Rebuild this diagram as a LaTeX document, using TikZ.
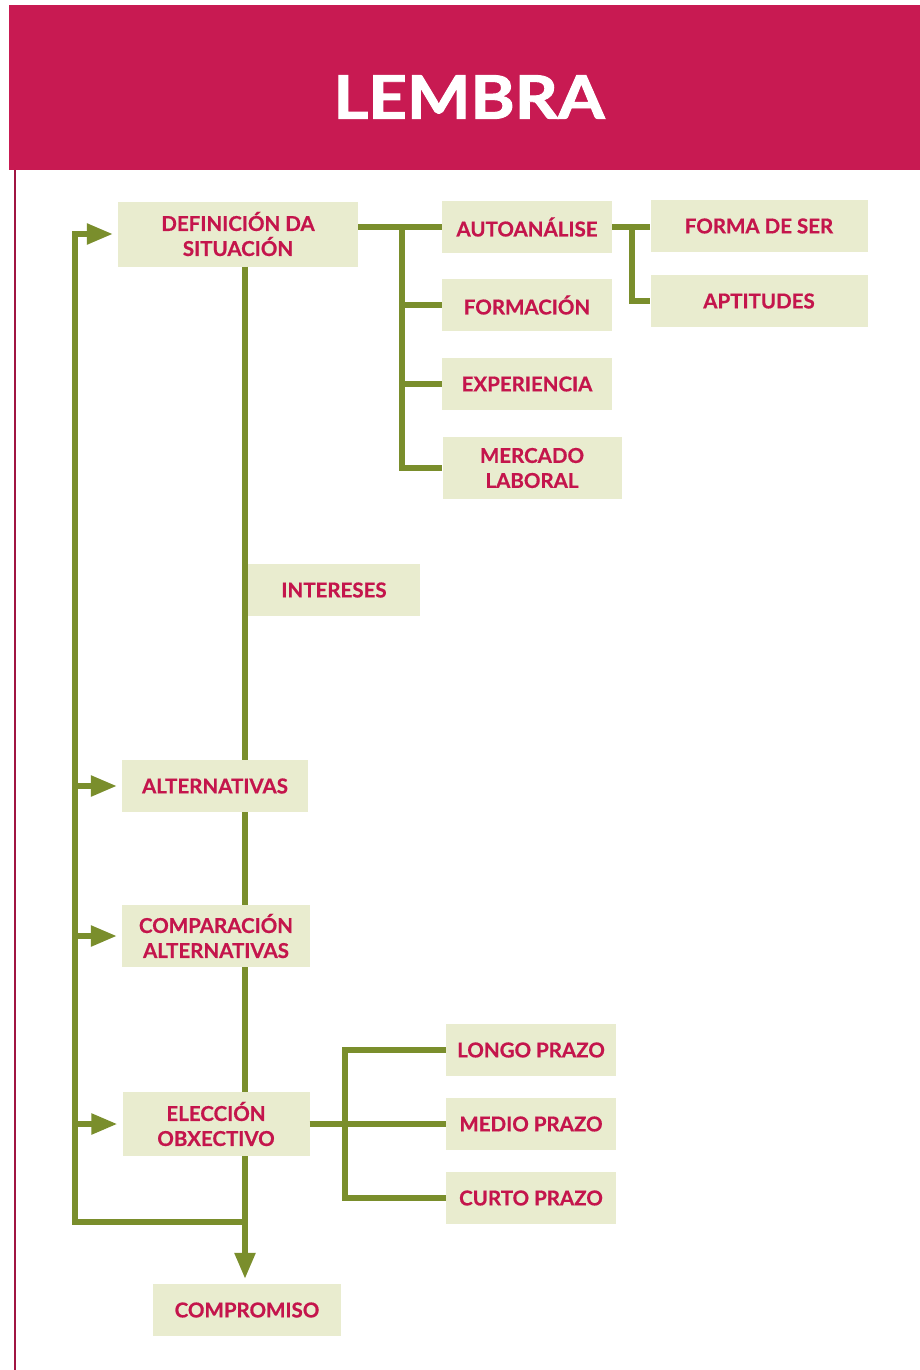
\documentclass[tikz,border=0pt]{standalone}
\usepackage{fontspec}
\setmainfont{Lato}
\newfontfamily\heavyfont{Lato}[BoldFeatures={FakeBold=1.6}]
\newfontfamily\boxfont{Lato}[BoldFeatures={FakeBold=0.6}]
\usetikzlibrary{arrows.meta}
\definecolor{mag}{HTML}{C81A52}
\definecolor{boxfill}{HTML}{E9ECCF}
\definecolor{txt}{HTML}{C4154C}
\definecolor{grn}{HTML}{7A8E2C}
\begin{document}
\begin{tikzpicture}[x=1pt,y=-1pt,
  bx/.style={fill=boxfill,draw=none,inner sep=0pt,align=center,text=txt,
    font=\boxfont\fontsize{20.5}{25}\selectfont\bfseries},
  conn/.style={draw=grn,line width=5.5pt},
  arr/.style={conn,-{Triangle[length=26pt,width=20pt]},shorten >=5pt}]
\useasboundingbox (0,0) rectangle (920,1370);
\fill[white] (0,0) rectangle (920,1370);
% header and border
\fill[mag] (9,5) rectangle (920,170);
\draw[mag!80!black,line width=2pt] (15,170) -- (15,1370);
\node[text=white,font=\heavyfont\fontsize{60}{60}\selectfont\bfseries,inner sep=0pt] (title) at (469,97) {\scalebox{1.12}[1]{LEMBRA}};
% boxes
\node[bx,minimum width=240pt,minimum height=65pt] (def) at (238,234) {DEFINICIÓN DA\\SITUACIÓN};
\node[bx,minimum width=170pt,minimum height=52pt] (auto) at (527,227) {AUTOANÁLISE};
\node[bx,minimum width=217pt,minimum height=52pt] (forma) at (759,226) {FORMA DE SER};
\node[bx,minimum width=217pt,minimum height=52pt] (apt) at (759,301) {APTITUDES};
\node[bx,minimum width=170pt,minimum height=52pt] (form) at (527,305) {FORMACIÓN};
\node[bx,minimum width=170pt,minimum height=52pt] (exp) at (527,384) {EXPERIENCIA};
\node[bx,minimum width=179pt,minimum height=62pt] (merc) at (532,468) {MERCADO\\LABORAL};
\node[bx,minimum width=172pt,minimum height=52pt] (int) at (334,590) {INTERESES};
\node[bx,minimum width=186pt,minimum height=52pt] (alt) at (215,786) {ALTERNATIVAS};
\node[bx,minimum width=188pt,minimum height=62pt] (comp) at (216,936) {COMPARACIÓN\\ALTERNATIVAS};
\node[bx,minimum width=187pt,minimum height=64pt] (elec) at (216,1124) {ELECCIÓN\\OBXECTIVO};
\node[bx,minimum width=170pt,minimum height=52pt] (longo) at (531,1050) {LONGO PRAZO};
\node[bx,minimum width=170pt,minimum height=52pt] (medio) at (531,1124) {MEDIO PRAZO};
\node[bx,minimum width=170pt,minimum height=52pt] (curto) at (531,1198) {CURTO PRAZO};
\node[bx,minimum width=188pt,minimum height=52pt] (compr) at (247,1310) {COMPROMISO};
% helper coordinates
\coordinate (mx) at (245,0);
\coordinate (lx) at (75,0);
\coordinate (b1) at (402,227);
\coordinate (b2) at (632,227);
\coordinate (b3) at (345,1124);
\coordinate (fb) at (245,1222);
% connectors: situation branch
\draw[conn] (def.east |- auto.west) -- (auto.west);
\draw[conn] (b1) |- (merc.west);
\draw[conn] (b1 |- form.west) -- (form.west);
\draw[conn] (b1 |- exp.west) -- (exp.west);
\draw[conn] (auto.east) -- (forma.west |- auto.east);
\draw[conn] (b2) |- (apt.west);
% main spine
\draw[conn] (mx |- def.south) -- (mx |- alt.north);
\draw[conn] (mx |- alt.south) -- (mx |- comp.north);
\draw[conn] (mx |- comp.south) -- (mx |- elec.north);
\draw[arr] (mx |- elec.south) -- (mx |- compr.north);
% objective branch
\draw[conn] (elec.east) -- (medio.west);
\draw[conn] (longo.west) -| (b3 |- curto.west) -- (curto.west);
% feedback loop
\draw[conn] (fb) -- (lx |- fb) -- ([yshift=-2.75pt]lx |- def.west);
\draw[arr] ([xshift=-2.75pt]lx |- def.west) -- (def.west);
\draw[arr] (lx |- alt.west) -- (alt.west);
\draw[arr] (lx |- comp.west) -- (comp.west);
\draw[arr] (lx |- elec.west) -- (elec.west);
\end{tikzpicture}
\end{document}
